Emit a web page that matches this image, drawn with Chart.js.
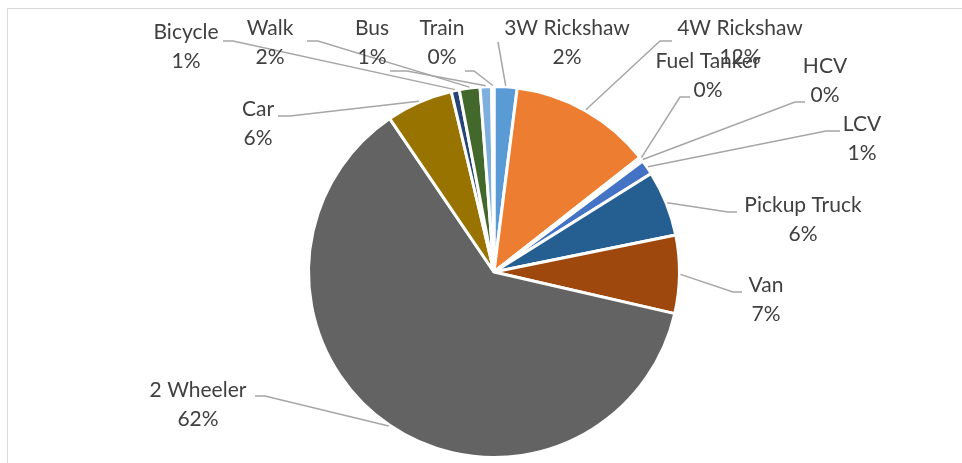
<!DOCTYPE html>
<html>
<head>
<meta charset="utf-8">
<script src="https://cdn.jsdelivr.net/npm/chart.js@4.4.0/dist/chart.umd.min.js"></script>
<style>
  html, body { margin: 0; padding: 0; background: #fff; overflow: hidden; }
  #wrap { position: relative; width: 962px; height: 463px; }
  #frame { position: absolute; left: 7px; top: 8px; width: 1000px; height: 500px; border: 1px solid #d9d9d9; }
  canvas { position: absolute; left: 0; top: 0; }
</style>
</head>
<body>
<div id="wrap">
  <div id="frame"></div>
  <canvas id="pie" width="962" height="463"></canvas>
</div>
<script>
// clockwise from 12 o'clock
const modes = ['3W Rickshaw', '4W Rickshaw', 'Fuel Tanker', 'HCV', 'LCV', 'Pickup Truck', 'Van',
               '2 Wheeler', 'Car', 'Bicycle', 'Walk', 'Bus', 'Train'];
const shares = [2.0, 12.4, 0.2, 0.2, 1.3, 5.7, 6.8, 61.9, 5.8, 0.7, 1.8, 1.0, 0.2];
const sliceColors = ['#5B9BD5', '#ED7D31', '#A5A5A5', '#FFC000', '#4472C4', '#255E91', '#9E480E',
                     '#636363', '#997300', '#264478', '#43682B', '#7CAFDD', '#F1975A'];

// label layout: [text centre x, first line y, tail x, elbow x, elbow y]
const labelLayout = [
    [567, 28, 498, 498, 42],
    [740, 28, 672, 660, 41],
    [708, 61, 690, 680, 97],
    [825, 66, 805, 795, 102],
    [862, 124, 840, 826, 131],
    [803, 205, 737, 728, 212],
    [766, 285, 742, 733, 292],
    [198, 390, 255, 265, 396],
    [258, 109, 278, 290, 116],
    [186, 32, 223, 233, 41],
    [270, 28, 307, 318, 41],
    [372, 28, 390, 407, 71],
    [442, 28, 465, 474, 71]
];

const total = shares.reduce((a, b) => a + b, 0);

const leaderLabels = {
    id: 'leaderLabels',
    afterDatasetsDraw(chart) {
        const ctx = chart.ctx;
        const arcs = chart.getDatasetMeta(0).data;
        ctx.save();
        arcs.forEach((arc, i) => {
            const p = arc.getProps(['x', 'y', 'startAngle', 'endAngle', 'outerRadius'], true);
            const mid = (p.startAngle + p.endAngle) / 2;
            const ex = p.x + Math.cos(mid) * (p.outerRadius + 1);
            const ey = p.y + Math.sin(mid) * (p.outerRadius + 1);
            const [tx, ty, tailX, elbowX, elbowY] = labelLayout[i];

            ctx.strokeStyle = '#a6a6a6';
            ctx.lineWidth = 1.5;
            ctx.beginPath();
            ctx.moveTo(tailX, elbowY);
            ctx.lineTo(elbowX, elbowY);
            ctx.lineTo(ex, ey);
            ctx.stroke();

            ctx.fillStyle = '#404040';
            ctx.font = '21px Lato';
            ctx.textAlign = 'center';
            ctx.textBaseline = 'middle';
            ctx.fillText(modes[i], tx, ty);
            ctx.fillText(Math.round(shares[i] / total * 100) + '%', tx, ty + 29);
        });
        ctx.restore();
    }
};

new Chart(document.getElementById('pie'), {
    type: 'pie',
    data: {
        labels: modes,
        datasets: [{
            data: shares,
            backgroundColor: sliceColors,
            borderColor: '#ffffff',
            borderWidth: 3
        }]
    },
    options: {
        responsive: false,
        animation: false,
        layout: { padding: { left: 307, right: 281, top: 85, bottom: 4 } },
        plugins: {
            legend: { display: false },
            tooltip: { enabled: false }
        }
    },
    plugins: [leaderLabels]
});
</script>
</body>
</html>
